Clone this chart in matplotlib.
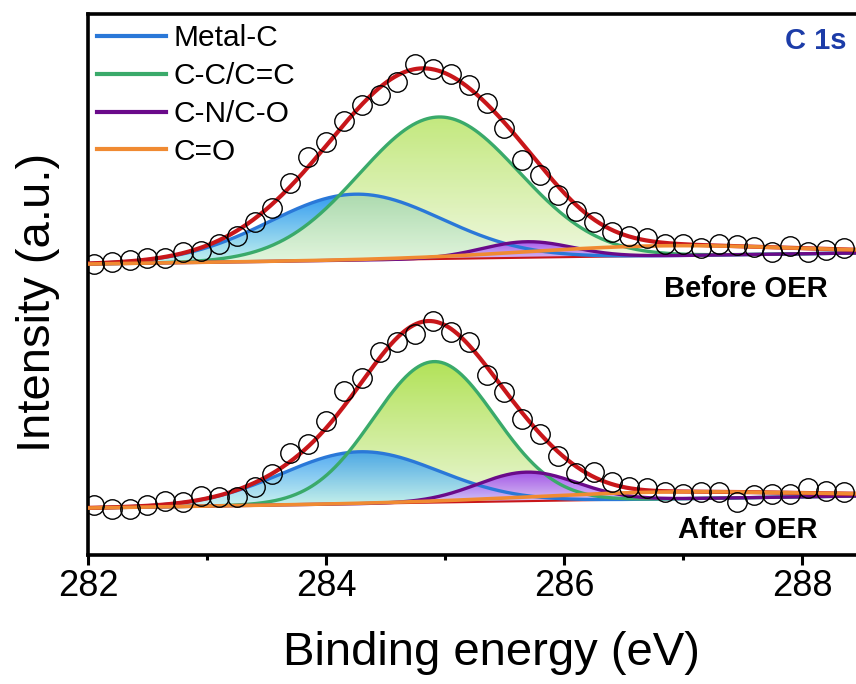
import numpy as np
import matplotlib

matplotlib.use("Agg")
import matplotlib.pyplot as plt
from matplotlib.colors import LinearSegmentedColormap
from matplotlib.lines import Line2D
from matplotlib.patches import PathPatch
from matplotlib.ticker import MultipleLocator

plt.rcParams["font.family"] = ["Liberation Sans", "DejaVu Sans"]

# measured C 1s points (binding energy in eV, intensity in a.u., spectra stacked)
energy = [282.05, 282.20, 282.35, 282.50, 282.65, 282.80, 282.95, 283.10, 283.25,
          283.40, 283.55, 283.70, 283.85, 284.00, 284.15, 284.30, 284.45, 284.60,
          284.75, 284.90, 285.05, 285.20, 285.35, 285.50, 285.65, 285.80, 285.95,
          286.10, 286.25, 286.40, 286.55, 286.70, 286.85, 287.00, 287.15, 287.30,
          287.45, 287.60, 287.75, 287.90, 288.05, 288.20, 288.35]
before_counts = [291, 293, 295, 297, 297, 303, 304, 311, 319, 333, 347, 372, 398,
                 413, 434, 450, 460, 473, 491, 486, 481, 470, 452, 427, 395, 380,
                 360, 344, 333, 323, 319, 317, 311, 311, 307, 311, 310, 308, 303,
                 309, 303, 305, 307]
after_counts = [50, 46, 46, 50, 54, 53, 59, 58, 58, 68, 81, 102, 111, 134, 164, 177,
                203, 213, 221, 234, 223, 213, 180, 163, 136, 121, 99, 82, 83, 73, 68,
                67, 63, 61, 63, 63, 53, 60, 61, 61, 67, 64, 63]

# fitted components: Metal-C, C-C/C=C, C-N/C-O, C=O
components = ["Metal-C", "C-C/C=C", "C-N/C-O", "C=O"]
before_center = [284.25, 284.95, 285.69, 286.80]
before_height = [66, 142, 16, 10]
before_fwhm = [1.70, 1.58, 0.90, 2.59]
after_center = [284.29, 284.91, 285.69, 286.80]
after_height = [52, 141, 29, 7]
after_fwhm = [1.55, 1.20, 0.99, 2.59]

# linear background end points at 282.0 and 288.45 eV
bg_energy = [282.0, 288.45]
before_background = [291, 302]
after_background = [47, 59]

LINE_COLORS = ["#2a78d8", "#3aaa6a", "#6a0a8a", "#f08a32"]
FILL_TOP = ["#339bf0", "#b2e258", "#9a3cf0"]
FILL_BOTTOM = ["#c6f4ee", "#ecf7da", "#e2d4fa"]
FIT_COLOR = "#c8161a"


def gauss(x, center, height, fwhm):
    sigma = fwhm / 2.3548
    return height * np.exp(-0.5 * ((x - center) / sigma) ** 2)


def gradient_fill(ax, x, base, peak, top, bottom, alpha, zorder):
    poly = ax.fill_between(x, base, base + peak, facecolor="none", edgecolor="none")
    clip = PathPatch(poly.get_paths()[0], transform=ax.transData,
                     facecolor="none", edgecolor="none")
    ax.add_patch(clip)
    cmap = LinearSegmentedColormap.from_list("grad", [bottom, top])
    grad = np.linspace(0, 1, 256).reshape(-1, 1)
    im = ax.imshow(grad, cmap=cmap, aspect="auto", origin="lower", alpha=alpha,
                   extent=[x.min(), x.max(), base.min(), (base + peak).max()],
                   zorder=zorder, interpolation="bilinear")
    im.set_clip_path(clip)


def draw_spectrum(ax, centers, heights, fwhms, background, counts, fill_order):
    grid = np.linspace(282.0, 288.45, 800)
    base = np.interp(grid, bg_energy, background)
    peaks = [gauss(grid, c, h, w) for c, h, w in zip(centers, heights, fwhms)]

    for i, alpha, z in fill_order:
        gradient_fill(ax, grid, base, peaks[i], FILL_TOP[i], FILL_BOTTOM[i], alpha, z)

    ax.plot(grid, base, color=FIT_COLOR, lw=1.5, zorder=4)
    for i in range(3):
        ax.plot(grid, base + peaks[i], color=LINE_COLORS[i], lw=2.4, zorder=5)
    ax.plot(grid, base + np.sum(peaks, axis=0), color=FIT_COLOR, lw=3.0, zorder=6)
    ax.plot(grid, base + peaks[3], color=LINE_COLORS[3], lw=2.6, zorder=7)
    ax.plot(energy, counts, "o", mfc="none", mec="black", ms=14, mew=1.0, zorder=8)


fig = plt.figure(figsize=(8.56, 6.84), dpi=100)
ax = fig.add_axes([0.1028, 0.1886, 0.8972, 0.7909])

# before OER: C-C drawn over Metal-C, after OER: Metal-C over C-C
draw_spectrum(ax, before_center, before_height, before_fwhm, before_background,
              before_counts, [(0, 1.0, 1), (1, 0.78, 2), (2, 0.85, 3)])
draw_spectrum(ax, after_center, after_height, after_fwhm, after_background,
              after_counts, [(1, 1.0, 1), (0, 0.85, 2), (2, 0.85, 3)])

ax.set_xlim(282, 288.454)
ax.set_ylim(0, 541)
ax.set_yticks([])
ax.xaxis.set_major_locator(MultipleLocator(2))
ax.xaxis.set_minor_locator(MultipleLocator(1))
ax.tick_params(axis="x", which="major", direction="out", length=7, width=2.2,
               labelsize=26, pad=3)
ax.tick_params(axis="x", which="minor", direction="out", length=3.5, width=2.2)
for side in ["left", "top", "bottom"]:
    ax.spines[side].set_linewidth(2.6)
ax.spines["right"].set_visible(False)

ax.set_xlabel("Binding energy (eV)", fontsize=34)
ax.xaxis.set_label_coords(0.525, -0.140)
ax.set_ylabel("Intensity (a.u.)", fontsize=34)
ax.yaxis.set_label_coords(-0.036, 0.466)

ax.text(0.988, 0.935, "C 1s", transform=ax.transAxes, ha="right", va="baseline",
        fontsize=21, fontweight="bold", color="#1c3ca8")
ax.text(0.9635, 0.477, "Before OER", transform=ax.transAxes, ha="right",
        va="baseline", fontsize=21, fontweight="bold")
ax.text(0.9505, 0.0314, "After OER", transform=ax.transAxes, ha="right",
        va="baseline", fontsize=21, fontweight="bold")

handles = [Line2D([], [], color=c, lw=3) for c in LINE_COLORS]
ax.legend(handles, components, loc="upper left", bbox_to_anchor=(0.0117, 0.981),
          frameon=False, fontsize=21.5, handlelength=2.3, handletextpad=0.27,
          labelspacing=0.33, borderpad=0, borderaxespad=0)

fig.savefig("out.png", dpi=100)
